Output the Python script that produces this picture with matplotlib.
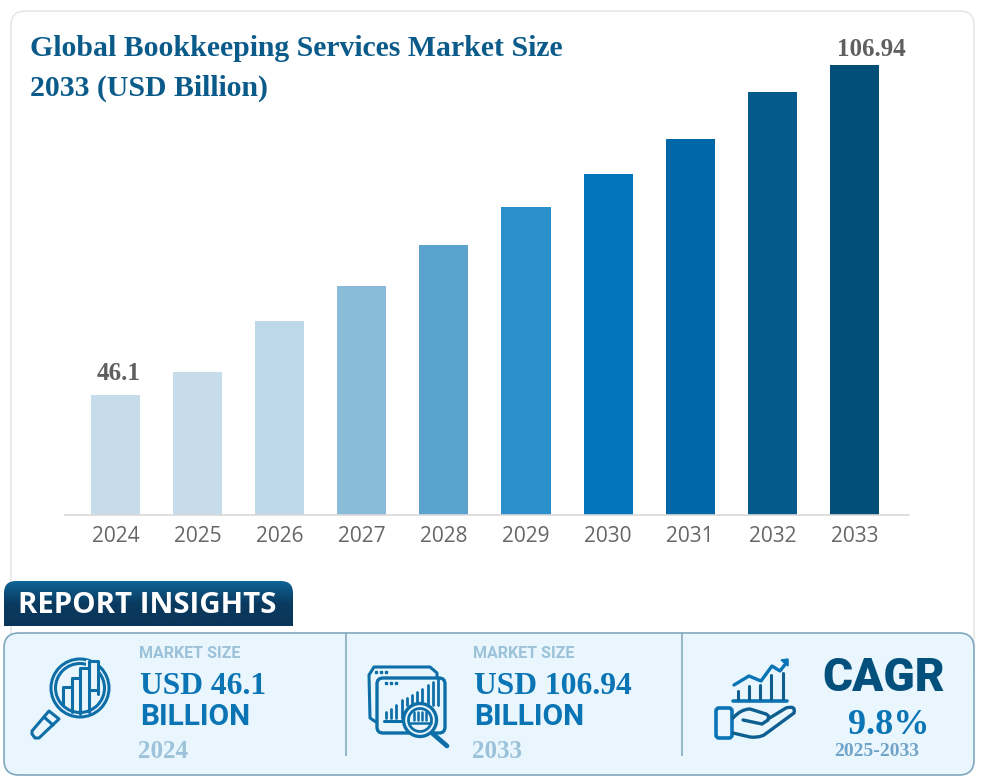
import matplotlib
matplotlib.use("Agg")
import matplotlib.pyplot as plt
import numpy as np
from matplotlib.patches import FancyBboxPatch, Circle, Rectangle, Polygon, PathPatch
from matplotlib.path import Path

W, H = 982, 781

years = ["2024", "2025", "2026", "2027", "2028", "2029", "2030", "2031", "2032", "2033"]
values = [46.1, 50.3, 59.7, 66.2, 73.7, 80.8, 86.9, 93.3, 102.0, 106.94]
bar_colors = ["#c6dcea", "#c6dcea", "#bcd8e9", "#8abbd9", "#5ba3cf",
              "#2b8fcc", "#0074bd", "#0068a8", "#055a8c", "#004f78"]
shown_labels = {"2024": "46.1", "2033": "106.94"}

SERIF = "Liberation Serif"
SANS = "Roboto"
BLUE = "#0b74b5"
DARK = "#0a5a8a"
LIGHT = "#9cc2da"

fig = plt.figure(figsize=(W / 100, H / 100), dpi=100, facecolor="white")

# overlay in pixel coordinates for the card, panel, icons and text
bg = fig.add_axes([0, 0, 1, 1])
bg.set_xlim(0, W)
bg.set_ylim(H, 0)
bg.axis("off")


def rounded(ax, x0, y0, x1, y1, r, fc, ec, lw=1.2, z=1):
    p = FancyBboxPatch((x0 + r, y0 + r), x1 - x0 - 2 * r, y1 - y0 - 2 * r,
                       boxstyle=f"round,pad={r},rounding_size={r}",
                       fc=fc, ec=ec, lw=lw, zorder=z)
    ax.add_patch(p)
    return p


def line(pts, color, lw=2.2, z=5):
    xs, ys = zip(*pts)
    bg.plot(xs, ys, color=color, lw=lw, zorder=z, solid_capstyle="round", solid_joinstyle="round")


def box(x0, y0, x1, y1, color, lw=2.2, r=4, z=5):
    rounded(bg, x0, y0, x1, y1, r, "none", color, lw=lw, z=z)


# outer card and bottom panel
rounded(bg, 11, 11, 974, 680, 14, "white", "#e6e6e6", lw=1.1, z=1)
rounded(bg, 4, 633, 974, 775, 15, "#e9f6fd", "#7fa8bf", lw=1.2, z=2)
bg.plot([346, 346], [633, 755], color="#8fb2c6", lw=1.3, zorder=3)
bg.plot([682, 682], [633, 755], color="#8fb2c6", lw=1.3, zorder=3)

# report insights tab with vertical gradient
tab_x0, tab_x1, tab_y0, tab_y1, tab_r = 4, 293, 581, 626, 12
tab_path = Path([(tab_x0, tab_y1), (tab_x0, tab_y0 + tab_r), (tab_x0, tab_y0), (tab_x0 + tab_r, tab_y0),
                 (tab_x1 - tab_r, tab_y0), (tab_x1, tab_y0), (tab_x1, tab_y0 + tab_r), (tab_x1, tab_y1),
                 (tab_x0, tab_y1)],
                [Path.MOVETO, Path.LINETO, Path.CURVE3, Path.CURVE3, Path.LINETO,
                 Path.CURVE3, Path.CURVE3, Path.LINETO, Path.CLOSEPOLY])
tab_patch = PathPatch(tab_path, fc="none", ec="none", transform=bg.transData)
bg.add_patch(tab_patch)
grad = np.linspace(0, 1, 64).reshape(-1, 1)
cmap = matplotlib.colors.LinearSegmentedColormap.from_list("tab", ["#0f6496", "#0a3a60", "#0a3558"])
im = bg.imshow(grad, extent=(tab_x0, tab_x1, tab_y1, tab_y0), cmap=cmap, aspect="auto", zorder=4)
im.set_clip_path(tab_patch)
bg.set_xlim(0, W)
bg.set_ylim(H, 0)
bg.text(18, 605.5, "REPORT INSIGHTS", color="white", fontsize=21.2, fontweight="bold", family="Open Sans",
        va="center", ha="left", zorder=6)

# bar chart
ax = fig.add_axes([65 / W, 1 - 515 / H, (909 - 65) / W, 515 / H])
ax.patch.set_alpha(0)
x = np.arange(len(years))
ax.bar(x, values, width=0.597, color=bar_colors, bottom=0)
ax.set_xlim(-0.615, 9.665)
ax.set_ylim(24.0, 24.0 + 515 / 5.424)
ax.set_xticks(x)
ax.set_xticklabels(years, fontsize=15, color="#666666", family="Open Sans")
ax.tick_params(axis="x", length=0, pad=8)
ax.set_yticks([])
for s in ["top", "left", "right"]:
    ax.spines[s].set_visible(False)
ax.spines["bottom"].set_color("#d9d9d9")
ax.spines["bottom"].set_linewidth(1.2)

# the two value labels do not sit at the same offset from their bars
label_offsets = {"2024": (3, 10), "2033": (17, 4)}
for i, yr in enumerate(years):
    if yr in shown_labels:
        ax.annotate(shown_labels[yr], (i, values[i]), xytext=label_offsets[yr], textcoords="offset pixels",
                    ha="center", va="bottom", fontsize=18, fontweight="bold", color="#5f5f5f", family=SERIF)

# title
bg.text(30, 48, "Global Bookkeeping Services Market Size", fontsize=21.4, fontweight="bold",
        color=DARK, family=SERIF, va="center", zorder=6)
bg.text(30, 88, "2033 (USD Billion)", fontsize=21.4, fontweight="bold",
        color=DARK, family=SERIF, va="center", zorder=6)


def stat_text(x0, size_text, year):
    bg.text(x0, 653, "MARKET SIZE", fontsize=11.5, fontweight="bold", color=LIGHT, family=SANS,
            va="center", zorder=6)
    bg.text(x0 + 1, 686, size_text, fontsize=22.8, fontweight="bold", color=BLUE, family=SERIF,
            va="center", zorder=6)
    bg.text(x0 + 1, 717, "BILLION", fontsize=21.5, fontweight="bold", color=BLUE, family=SANS,
            va="center", zorder=6)
    bg.text(x0 - 1, 751, year, fontsize=18, fontweight="bold", color=LIGHT, family=SERIF,
            va="center", zorder=6)


stat_text(139, "USD 46.1", "2024")
stat_text(473, "USD 106.94", "2033")

bg.text(883.5, 678, "CAGR", fontsize=33, fontweight=900, color="#03507d", family=SANS,
        ha="center", va="center", zorder=6)
bg.text(889, 725, "9.8%", fontsize=26, fontweight="bold", color=BLUE, family=SERIF,
        ha="center", va="center", zorder=6)
bg.text(877, 751, "2025-2033", fontsize=14, fontweight="bold", color="#6fa3c8", family=SERIF,
        ha="center", va="center", zorder=6)

# icon 1: magnifier over bars
ICON = "#0e6fa8"
for r, lw in [(29, 2.2), (24.5, 2.2)]:
    bg.add_patch(Circle((80, 688), r, fc="none", ec=ICON, lw=lw, zorder=5))
bg.add_patch(Rectangle((86, 660), 14, 40, fc="#e9f6fd", ec="none", zorder=5.5))
line([(63, 704), (63, 687), (72, 687)], ICON, z=6)
line([(72, 712), (72, 678), (80, 678)], ICON, z=6)
line([(80, 714), (80, 668), (89, 668)], ICON, z=6)
line([(89, 712), (89, 661), (98, 661), (98, 694)], ICON, z=6)
line([(89, 690), (98, 690)], ICON, z=6)
bg.add_patch(Polygon([(49, 711), (59, 719), (39, 738), (35, 738), (32, 734), (32, 731)],
                     closed=True, fc="none", ec=ICON, lw=2.2, zorder=5, joinstyle="round"))
line([(44, 717), (53, 725)], ICON)

# icon 2: windows with magnifier
line([(376, 722), (370, 718), (369, 675), (374, 667), (430, 667), (437, 673), (437, 677)], ICON)
box(377, 678, 445, 733, ICON, lw=2.4, r=6)
for i in range(3):
    bg.plot([376 + i * 5], [672], "s", ms=1.8, color=ICON, zorder=6)
    bg.plot([386 + i * 5], [683], "s", ms=1.8, color=ICON, zorder=6)
line([(384, 721), (408, 721)], ICON)
for i, top in enumerate([712, 709, 705, 700, 698, 695, 692, 689, 685, 682, 679]):
    bx = 386 + i * 5.2
    bot = 718 if bx < 404 else 705
    line([(bx, bot), (bx, top)], ICON, lw=2, z=5)
bg.add_patch(Circle((420, 720), 16.5, fc="#e9f6fd", ec=ICON, lw=2.4, zorder=6))
bg.add_patch(Circle((420, 720), 11.5, fc="none", ec=ICON, lw=2, zorder=7))
for bx in [414, 418, 422, 426]:
    line([(bx, 712), (bx, 720)], ICON, lw=1.8, z=7)
line([(409, 723), (431, 723)], ICON, lw=1.8, z=7)
line([(432, 733), (447, 746)], ICON, lw=3.4, z=6)

# icon 3: hand with growth chart
HAND = "#0e5f8f"
line([(734, 685), (749, 676), (761, 681), (772, 666), (780, 671), (787, 662)], BLUE, lw=2.4)
bg.add_patch(Polygon([(781, 660), (788, 659), (788, 666)], closed=True, fc=BLUE, ec=BLUE, zorder=5))
line([(733, 701), (787, 701)], BLUE, lw=2.6)
for bx, top in [(738, 691), (749, 686), (760, 685), (771, 675), (783, 673)]:
    line([(bx, 699), (bx, top)], HAND, lw=2.2)
box(716, 708, 732, 738, BLUE, lw=2.6, r=3)
hand = Path([(733, 718), (741, 709), (750, 709), (766, 714), (770, 716), (768, 719), (786, 708),
             (796, 705), (794, 713), (764, 735), (758, 738), (750, 737), (733, 733)],
            [Path.MOVETO, Path.CURVE3, Path.CURVE3, Path.LINETO, Path.CURVE3, Path.CURVE3, Path.LINETO,
             Path.CURVE3, Path.CURVE3, Path.LINETO, Path.CURVE3, Path.CURVE3, Path.LINETO])
bg.add_patch(PathPatch(hand, fc="none", ec=HAND, lw=2.4, zorder=5, capstyle="round", joinstyle="round"))
line([(743, 720), (762, 724), (768, 720)], HAND, lw=2.4)

fig.savefig("out.png", dpi=100, facecolor="white")
